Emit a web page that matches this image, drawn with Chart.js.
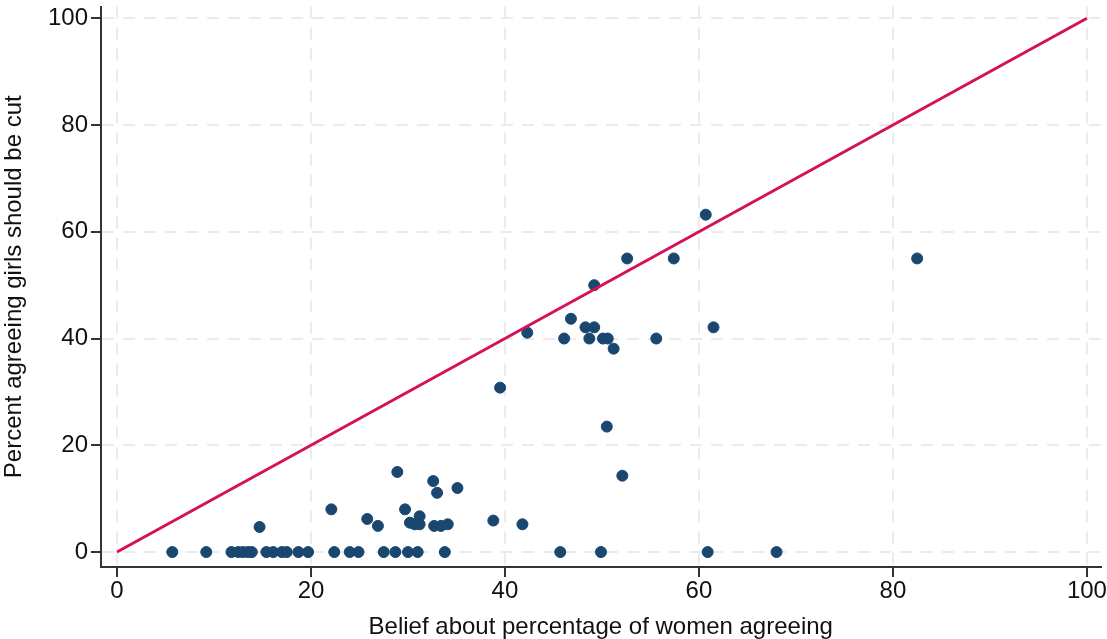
<!DOCTYPE html>
<html>
<head>
<meta charset="utf-8">
<script src="https://cdn.jsdelivr.net/npm/chart.js@4.4.1/dist/chart.umd.min.js"></script>
<style>
  body { margin: 0; background: #fff; }
  #wrap { width: 1107px; height: 639px; }
</style>
</head>
<body>
<div id="wrap"><canvas id="grafico" width="1107" height="639"></canvas></div>
<script>
// dados
const beliefX = [
    5.7, 9.2, 11.8, 12.5, 13.0, 13.5, 13.9, 15.4, 16.1, 17.0, 17.5, 18.7, 19.7,
    22.4, 24.0, 24.9, 27.5, 28.7, 30.0, 31.0, 33.8, 45.7, 49.9, 60.9, 68.0,
    14.7, 22.1, 25.8, 26.9, 28.9, 29.7, 30.2, 30.7, 31.2, 31.2, 32.6, 32.7,
    33.0, 33.4, 34.1, 35.1, 38.8, 41.8, 39.5, 42.3, 46.1, 46.8, 48.3, 48.7,
    49.2, 49.2, 50.1, 50.6, 51.2, 50.5, 52.1, 52.6, 55.6, 57.4, 60.7, 61.5, 82.5
];
const agreeY = [
    0, 0, 0, 0, 0, 0, 0, 0, 0, 0, 0, 0, 0,
    0, 0, 0, 0, 0, 0, 0, 0, 0, 0, 0, 0,
    4.7, 8.0, 6.2, 4.9, 15.0, 8.0, 5.5, 5.2, 6.7, 5.2, 13.3, 4.9,
    11.1, 4.9, 5.2, 12.0, 5.9, 5.2, 30.8, 41.1, 40.0, 43.7, 42.1, 40.0,
    42.1, 50.0, 40.0, 40.0, 38.1, 23.5, 14.3, 55.0, 40.0, 55.0, 63.2, 42.1, 55.0
];
// linha de 45 graus
const lineX = [0, 100];
const lineY = [0, 100];
const tickValues = [0, 20, 40, 60, 80, 100];

const pontos = beliefX.map((x, i) => ({ x: x, y: agreeY[i] }));
const linha = lineX.map((x, i) => ({ x: x, y: lineY[i] }));

const familia = "'Liberation Sans', Arial, sans-serif";
const fonteTick = { family: familia, size: 24 };
const fonteTitulo = { family: familia, size: 24 };

const fixTicks = scale => {
    scale.ticks = tickValues.map(v => ({ value: v }));
};

const ctx = document.getElementById('grafico').getContext('2d');

new Chart(ctx, {
    type: 'scatter',
    data: {
        datasets: [{
            data: pontos,
            backgroundColor: '#1a476f',
            borderColor: '#1a476f',
            pointRadius: 5.5,
            pointHoverRadius: 5.5,
            order: 2
        }, {
            type: 'line',
            data: linha,
            borderColor: '#d41159',
            borderWidth: 3,
            pointRadius: 0,
            fill: false,
            order: 1
        }]
    },
    options: {
        responsive: false,
        animation: false,
        layout: { padding: { top: 0, right: 5, left: 0, bottom: 0 } },
        plugins: {
            legend: { display: false },
            tooltip: { enabled: false }
        },
        scales: {
            x: {
                type: 'linear',
                min: -1.65,
                max: 101.4,
                afterBuildTicks: fixTicks,
                afterFit: s => {
                    s.height = 72;
                    s.paddingLeft = 0;
                    s.paddingRight = 0;
                },
                border: { color: '#333', width: 2, dash: [12, 9] },
                grid: {
                    color: '#ebebeb',
                    lineWidth: 2,
                    tickColor: '#333',
                    tickLength: 10,
                    tickBorderDash: []
                },
                ticks: { color: '#111', font: fonteTick, padding: 0, maxRotation: 0 },
                title: {
                    display: true,
                    text: 'Belief about percentage of women agreeing',
                    color: '#111',
                    font: fonteTitulo,
                    padding: { top: -3, bottom: -3 }
                }
            },
            y: {
                type: 'linear',
                min: -2.8,
                max: 102.2,
                afterBuildTicks: fixTicks,
                afterFit: s => {
                    s.width = 101;
                    s.paddingTop = 0;
                    s.paddingBottom = 0;
                },
                border: { color: '#333', width: 2, dash: [12, 9] },
                grid: {
                    color: '#ebebeb',
                    lineWidth: 2,
                    tickColor: '#333',
                    tickLength: 10,
                    tickBorderDash: []
                },
                ticks: { color: '#111', font: fonteTick, padding: 3 },
                title: {
                    display: true,
                    text: 'Percent agreeing girls should be cut',
                    color: '#111',
                    font: fonteTitulo,
                    padding: { top: 0, bottom: 0 }
                }
            }
        }
    }
});
</script>
</body>
</html>
